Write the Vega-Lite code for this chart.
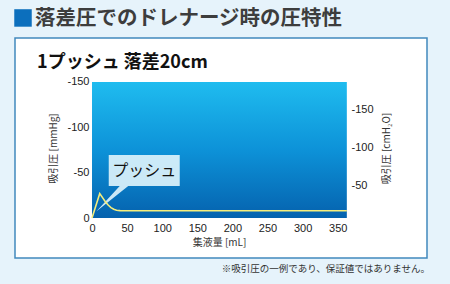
{
  "$schema": "https://vega.github.io/schema/vega-lite/v6.json",
  "width": 412,
  "height": 220,
  "autosize": {"type": "none"},
  "padding": {"left": 15, "top": 38, "right": 23, "bottom": 26},
  "background": "#e6f3fb",
  "config": {
    "view": {"fill": "#ffffff", "stroke": "#4189bd", "strokeWidth": 1.5},
    "axis": {
      "grid": false, "ticks": false, "tickSize": 0, "domain": false,
      "labelFont": "Liberation Sans", "labelFontSize": 11, "labelColor": "#222222",
      "titleFont": "Noto Sans CJK JP", "titleFontSize": 10, "titleFontWeight": "normal", "titleColor": "#333333"
    },
    "text": {"font": "Noto Sans CJK JP"}
  },
  "layer": [
    {
      "layer": [
        {
          "data": {"values": [{}]},
          "mark": {"type": "rect", "fill": {"gradient": "linear", "x1": 0, "y1": 0, "x2": 0, "y2": 1,
            "stops": [{"offset": 0, "color": "#1fbcef"}, {"offset": 0.5, "color": "#0d92d8"}, {"offset": 1, "color": "#0562ae"}]}},
          "encoding": {
            "x": {"datum": 0, "type": "quantitative", "scale": {"domain": [-109.7, 477.2], "nice": false, "zero": false},
              "axis": {"orient": "bottom", "offset": -40, "values": [0, 50, 100, 150, 200, 250, 300, 350], "labelPadding": 4, "labelFlush": false, "labelOverlap": false, "labelExpr": "'' + datum.value", "title": "集液量 [mL]", "titlePadding": 4, "titleX": 204}},
            "x2": {"datum": 363},
            "y": {"datum": 0, "type": "quantitative", "scale": {"domain": [44.1, -198.5], "nice": false, "zero": false},
              "axis": {"orient": "left", "offset": -77, "values": [0, -50, -100, -150], "labelPadding": 3, "labelOverlap": false, "labelExpr": "'' + datum.value", "title": "吸引圧 [mmHg]", "titlePadding": 8}},
            "y2": {"datum": -150}
          }
        },
        {
          "data": {"values": [{}]},
          "mark": {"type": "point", "shape": "M-35.5,-15.5L35.5,-15.5L35.5,15.5L-16,15.5L-48,41L-24.5,15.5L-35.5,15.5Z", "size": 4, "filled": true, "fill": "#dcf2fb", "opacity": 0.92, "strokeWidth": 0},
          "encoding": {
            "x": {"datum": 74.4, "type": "quantitative", "scale": {"domain": [-109.7, 477.2], "nice": false, "zero": false}},
            "y": {"datum": -52.4, "type": "quantitative", "scale": {"domain": [44.1, -198.5], "nice": false, "zero": false}}
          }
        },
        {
          "data": {"values": [
            {"ml": 0, "mmHg": 0},
            {"ml": 11, "mmHg": -27},
            {"ml": 15, "mmHg": -22.5},
            {"ml": 19, "mmHg": -18},
            {"ml": 23, "mmHg": -14.3},
            {"ml": 27, "mmHg": -11.5},
            {"ml": 31, "mmHg": -9.6},
            {"ml": 35, "mmHg": -8.6},
            {"ml": 40, "mmHg": -8.1},
            {"ml": 50, "mmHg": -8},
            {"ml": 150, "mmHg": -8},
            {"ml": 250, "mmHg": -8},
            {"ml": 363, "mmHg": -8}
          ]},
          "mark": {"type": "line", "color": "#f6ee7c", "strokeWidth": 1.6},
          "encoding": {
            "x": {"field": "ml", "type": "quantitative", "scale": {"domain": [-109.7, 477.2], "nice": false, "zero": false}},
            "y": {"field": "mmHg", "type": "quantitative", "scale": {"domain": [44.1, -198.5], "nice": false, "zero": false}}
          }
        },
        {
          "data": {"values": [{}]},
          "mark": {"type": "text", "text": "プッシュ", "fontSize": 16, "color": "#111111", "align": "center", "baseline": "middle", "dy": 1},
          "encoding": {
            "x": {"datum": 74.4, "type": "quantitative", "scale": {"domain": [-109.7, 477.2], "nice": false, "zero": false}},
            "y": {"datum": -52.4, "type": "quantitative", "scale": {"domain": [44.1, -198.5], "nice": false, "zero": false}}
          }
        },
        {
          "data": {"values": [{}]},
          "mark": {"type": "point", "shape": "square", "size": 306, "filled": true, "color": "#0c6fbd", "opacity": 1, "strokeWidth": 0},
          "encoding": {
            "x": {"datum": -98.3, "type": "quantitative", "scale": {"domain": [-109.7, 477.2], "nice": false, "zero": false}},
            "y": {"datum": -220.6, "type": "quantitative", "scale": {"domain": [44.1, -198.5], "nice": false, "zero": false}}
          }
        },
        {
          "data": {"values": [{}]},
          "mark": {"type": "text", "text": "落差圧でのドレナージ時の圧特性", "fontSize": 20.5, "fontWeight": "bold", "color": "#3d3d3d", "align": "left", "baseline": "alphabetic"},
          "encoding": {
            "x": {"datum": -81.2, "type": "quantitative", "scale": {"domain": [-109.7, 477.2], "nice": false, "zero": false}},
            "y": {"datum": -212.3, "type": "quantitative", "scale": {"domain": [44.1, -198.5], "nice": false, "zero": false}}
          }
        },
        {
          "data": {"values": [{}]},
          "mark": {"type": "text", "text": "1プッシュ 落差20cm", "fontSize": 18, "fontWeight": "bold", "color": "#111111", "align": "left", "baseline": "alphabetic"},
          "encoding": {
            "x": {"datum": -78.3, "type": "quantitative", "scale": {"domain": [-109.7, 477.2], "nice": false, "zero": false}},
            "y": {"datum": -165.4, "type": "quantitative", "scale": {"domain": [44.1, -198.5], "nice": false, "zero": false}}
          }
        },
        {
          "data": {"values": [{}]},
          "mark": {"type": "text", "text": "※吸引圧の一例であり、保証値ではありません。", "fontSize": 9.5, "color": "#333333", "align": "right", "baseline": "middle"},
          "encoding": {
            "x": {"datum": 481.5, "type": "quantitative", "scale": {"domain": [-109.7, 477.2], "nice": false, "zero": false}},
            "y": {"datum": 55.7, "type": "quantitative", "scale": {"domain": [44.1, -198.5], "nice": false, "zero": false}}
          }
        }
      ]
    },
    {
      "data": {"values": [{}]},
      "mark": {"type": "point", "opacity": 0},
      "encoding": {
        "y": {"datum": -100, "type": "quantitative", "scale": {"domain": [46.4, -244.2], "nice": false, "zero": false},
          "axis": {"orient": "right", "offset": -80, "values": [-50, -100, -150], "labelPadding": 4, "labelOverlap": false, "labelExpr": "'' + datum.value", "title": "吸引圧 [cmH₂O]", "titleAngle": 270, "titleBaseline": "top", "titlePadding": 8}}
      }
    }
  ],
  "resolve": {"scale": {"y": "independent"}, "axis": {"y": "independent"}}
}
